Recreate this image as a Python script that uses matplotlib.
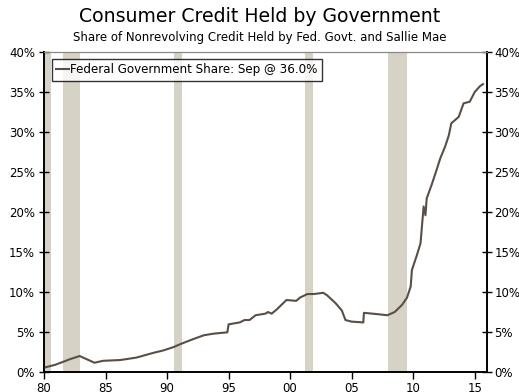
import matplotlib.pyplot as plt
from matplotlib.ticker import FuncFormatter

# federal government share of nonrevolving consumer credit (%), decimal year
years = [1980.0, 1980.9, 1981.6, 1982.1, 1982.9, 1984.1, 1984.8, 1986.2, 1987.5,
         1988.9, 1989.7, 1990.5, 1991.1, 1992.1, 1993.0, 1993.8, 1994.9, 1995.0,
         1995.9, 1996.3, 1996.7, 1997.2, 1998.0, 1998.2, 1998.5, 1998.9, 1999.7,
         2000.5, 2000.8, 2001.4, 2001.9, 2002.7, 2003.0, 2003.7, 2004.2, 2004.5,
         2005.0, 2005.95, 2006.0, 2007.0, 2007.9, 2008.5, 2009.1, 2009.5, 2009.8,
         2009.9, 2010.3, 2010.6, 2010.85, 2011.0, 2011.1, 2011.5, 2011.9, 2012.2,
         2012.6, 2012.9, 2013.1, 2013.7, 2014.1, 2014.6, 2015.0, 2015.4, 2015.67]
share = [0.54, 0.9, 1.3, 1.6, 2.0, 1.16, 1.4, 1.5, 1.8,
         2.4, 2.7, 3.1, 3.5, 4.1, 4.6, 4.8, 4.96, 5.96,
         6.2, 6.5, 6.5, 7.1, 7.3, 7.5, 7.3, 7.8, 9.0,
         8.9, 9.3, 9.75, 9.75, 9.9, 9.6, 8.6, 7.7, 6.5,
         6.3, 6.2, 7.4, 7.25, 7.1, 7.5, 8.4, 9.3, 10.7,
         12.75, 14.6, 16.1, 20.7, 19.6, 21.7, 23.4, 25.25, 26.7,
         28.2, 29.6, 31.1, 31.9, 33.6, 33.8, 35.0, 35.7, 36.0]

# NBER recessions (start, end)
recessions = [(1980.0, 1980.55), (1981.55, 1982.9), (1990.55, 1991.2),
              (2001.2, 2001.9), (2007.95, 2009.5)]

xticks = [1980, 1985, 1990, 1995, 2000, 2005, 2010, 2015]
xlabels = ['80', '85', '90', '95', '00', '05', '10', '15']
yticks = [0, 5, 10, 15, 20, 25, 30, 35, 40]

line_color = '#5a4e46'
band_color = '#d6d2c5'
pct = FuncFormatter(lambda v, _: f'{v:.0f}%')

fig = plt.figure(figsize=(5.19, 3.92), dpi=100)
ax = fig.add_axes([0.0848, 0.051, 0.8535, 0.816])

for start, end in recessions:
    ax.axvspan(start, end, color=band_color, lw=0, zorder=1)

ax.plot(years, share, color=line_color, lw=1.5, zorder=3,
        label='Federal Government Share: Sep @ 36.0%')

ax.set_xlim(1980, 2016)
ax.set_ylim(0, 40)
ax.set_xticks(xticks)
ax.set_xticklabels(xlabels)
ax.set_yticks(yticks)
ax.yaxis.set_major_formatter(pct)

ax.tick_params(axis='x', direction='out', length=5, width=1, labelsize=8.5, pad=2)
ax.tick_params(axis='y', direction='inout', length=7, width=1, labelsize=8.5, pad=3)

# right-hand copy of the percent axis
ax2 = ax.twinx()
ax2.set_ylim(0, 40)
ax2.set_yticks(yticks)
ax2.yaxis.set_major_formatter(pct)
ax2.tick_params(axis='y', direction='inout', length=7, width=1, labelsize=8.5, pad=2)

for a in (ax, ax2):
    for side in ['left', 'bottom', 'right']:
        a.spines[side].set_color('black')
        a.spines[side].set_linewidth(1.2)
    a.spines['top'].set_color('#888888')
    a.spines['top'].set_linewidth(0.8)

leg = ax.legend(loc='upper left', fontsize=8.6, frameon=True, fancybox=False,
                handlelength=1.1, handletextpad=0.1, borderpad=0.35,
                borderaxespad=0, bbox_to_anchor=(0.018, 0.978))
leg.get_frame().set_edgecolor('black')
leg.get_frame().set_linewidth(1.0)

fig.text(0.5, 0.957, 'Consumer Credit Held by Government', ha='center',
         va='center', fontsize=13.6)
fig.text(0.5, 0.905, 'Share of Nonrevolving Credit Held by Fed. Govt. and Sallie Mae',
         ha='center', va='center', fontsize=8.5)

fig.savefig('out.png', dpi=100)
